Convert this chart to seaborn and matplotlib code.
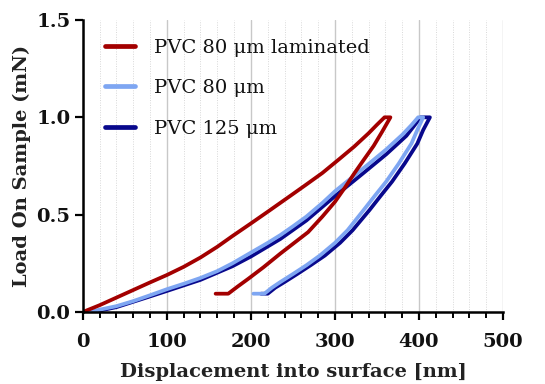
import numpy as np
import pandas as pd
import matplotlib
matplotlib.use("Agg")
import matplotlib.pyplot as plt
import seaborn as sns
from matplotlib.ticker import MultipleLocator

# ---- data ----
series_names = ["PVC 80 \u03bcm laminated", "PVC 80 \u03bcm", "PVC 125 \u03bcm"]
series_colors = ["#a30000", "#7ea6f2", "#08088c"]

lam_load_x = [0, 20, 40, 60, 80, 100, 120, 140, 160, 178, 200, 220, 247, 265, 285, 305, 323, 340, 350, 359, 366]
lam_load_y = [0, 0.035, 0.074, 0.113, 0.152, 0.19, 0.232, 0.28, 0.335, 0.39, 0.455, 0.515, 0.597, 0.652, 0.714,
              0.785, 0.85, 0.918, 0.962, 1.0, 1.0]
lam_unload_x = [366, 356, 346, 334, 323, 312, 300, 285, 268, 250, 235, 215, 197, 184, 173, 158]
lam_unload_y = [1.0, 0.925, 0.853, 0.78, 0.712, 0.64, 0.566, 0.49, 0.41, 0.35, 0.30, 0.23, 0.171, 0.13, 0.094, 0.094]

p80_load_x = [8, 20, 40, 60, 80, 100, 120, 140, 160, 178, 200, 220, 235, 250, 266, 285, 300, 320, 340, 361,
              380, 391, 399, 405]
p80_load_y = [0, 0.012, 0.03, 0.056, 0.086, 0.117, 0.145, 0.175, 0.21, 0.25, 0.305, 0.355, 0.395, 0.44, 0.49,
              0.56, 0.62, 0.69, 0.76, 0.835, 0.91, 0.96, 1.0, 1.0]
p80_unload_x = [405, 398, 391, 376, 361, 348, 334, 315, 300, 282, 266, 250, 235, 225, 216, 203]
p80_unload_y = [1.0, 0.935, 0.865, 0.763, 0.67, 0.6, 0.523, 0.42, 0.355, 0.29, 0.24, 0.195, 0.154, 0.125, 0.094, 0.094]

p125_load_x = [12, 40, 80, 100, 140, 178, 200, 235, 266, 300, 330, 361, 385, 402, 413]
p125_load_y = [0, 0.025, 0.08, 0.108, 0.165, 0.235, 0.285, 0.375, 0.47, 0.595, 0.7, 0.81, 0.905, 1.0, 1.0]
p125_unload_x = [413, 405, 398, 383, 368, 355, 341, 321, 306, 288, 271, 255, 240, 229, 220, 212]
p125_unload_y = [1.0, 0.935, 0.865, 0.763, 0.67, 0.6, 0.523, 0.42, 0.355, 0.29, 0.24, 0.195, 0.154, 0.125, 0.094, 0.094]

x_ticks = [0, 100, 200, 300, 400, 500]
y_ticks = [0.0, 0.5, 1.0, 1.5]

curves = {
    series_names[0]: (lam_load_x + lam_unload_x[1:], lam_load_y + lam_unload_y[1:]),
    series_names[1]: (p80_load_x + p80_unload_x[1:], p80_load_y + p80_unload_y[1:]),
    series_names[2]: (p125_load_x + p125_unload_x[1:], p125_load_y + p125_unload_y[1:]),
}

sns.set_theme(style="white")
plt.rcParams["font.family"] = ["DejaVu Serif"]

fig = plt.figure(figsize=(5.45, 3.84), dpi=100)
ax = fig.add_axes([0.152, 0.1875, 0.771, 0.7605])

ax.set_xlim(0, 500)
ax.set_ylim(0, 1.5)
ax.xaxis.set_major_locator(MultipleLocator(100))
ax.xaxis.set_minor_locator(MultipleLocator(20))
ax.yaxis.set_major_locator(MultipleLocator(0.5))
ax.grid(True, axis="x", which="major", color="#c8c8c8", linewidth=1.0, zorder=0)
ax.grid(True, axis="x", which="minor", color="#d8d8d8", linewidth=0.7, linestyle=(0, (1, 1.5)), zorder=0)
ax.set_axisbelow(True)

for name, col in reversed(list(zip(series_names, series_colors))):
    xs, ys = curves[name]
    df = pd.DataFrame({"x": xs, "y": ys})
    sns.lineplot(data=df, x="x", y="y", sort=False, estimator=None, color=col,
                 linewidth=2.7, ax=ax, label=name)

h, l = ax.get_legend_handles_labels()
order = [l.index(n) for n in series_names]
leg = ax.legend([h[i] for i in order], [l[i] for i in order], loc="upper left",
                frameon=False, fontsize=14, handlelength=1.55, handletextpad=0.95,
                labelspacing=1.15, bbox_to_anchor=(0.035, 0.962), borderaxespad=0.0)
for line in leg.get_lines():
    line.set_linewidth(3.4)
for t in leg.get_texts():
    t.set_color("#111111")

ax.set_xticks(x_ticks)
ax.set_yticks(y_ticks)
ax.set_xticklabels([str(v) for v in x_ticks])
ax.set_yticklabels([f"{v:.1f}" for v in y_ticks])
for lab in ax.get_xticklabels() + ax.get_yticklabels():
    lab.set_fontweight("bold")
    lab.set_fontsize(14)
    lab.set_color("#111111")

ax.tick_params(axis="x", which="major", direction="out", length=6, width=1.6,
               color="black", bottom=True, pad=9)
ax.tick_params(axis="y", which="major", direction="out", length=6, width=1.6,
               color="black", left=True, pad=3)
ax.tick_params(axis="x", which="minor", direction="out", length=4, width=1.4,
               color="black", bottom=True)

sns.despine(ax=ax)
for sp in ["left", "bottom"]:
    ax.spines[sp].set_linewidth(1.8)
    ax.spines[sp].set_color("black")

ax.set_xlabel("Displacement into surface [nm]", fontsize=14, fontweight="bold",
              color="#222222", labelpad=9)
ax.set_ylabel("Load On Sample (mN)", fontsize=14, fontweight="bold",
              color="#222222", labelpad=4)

fig.savefig("out.png", dpi=100)
